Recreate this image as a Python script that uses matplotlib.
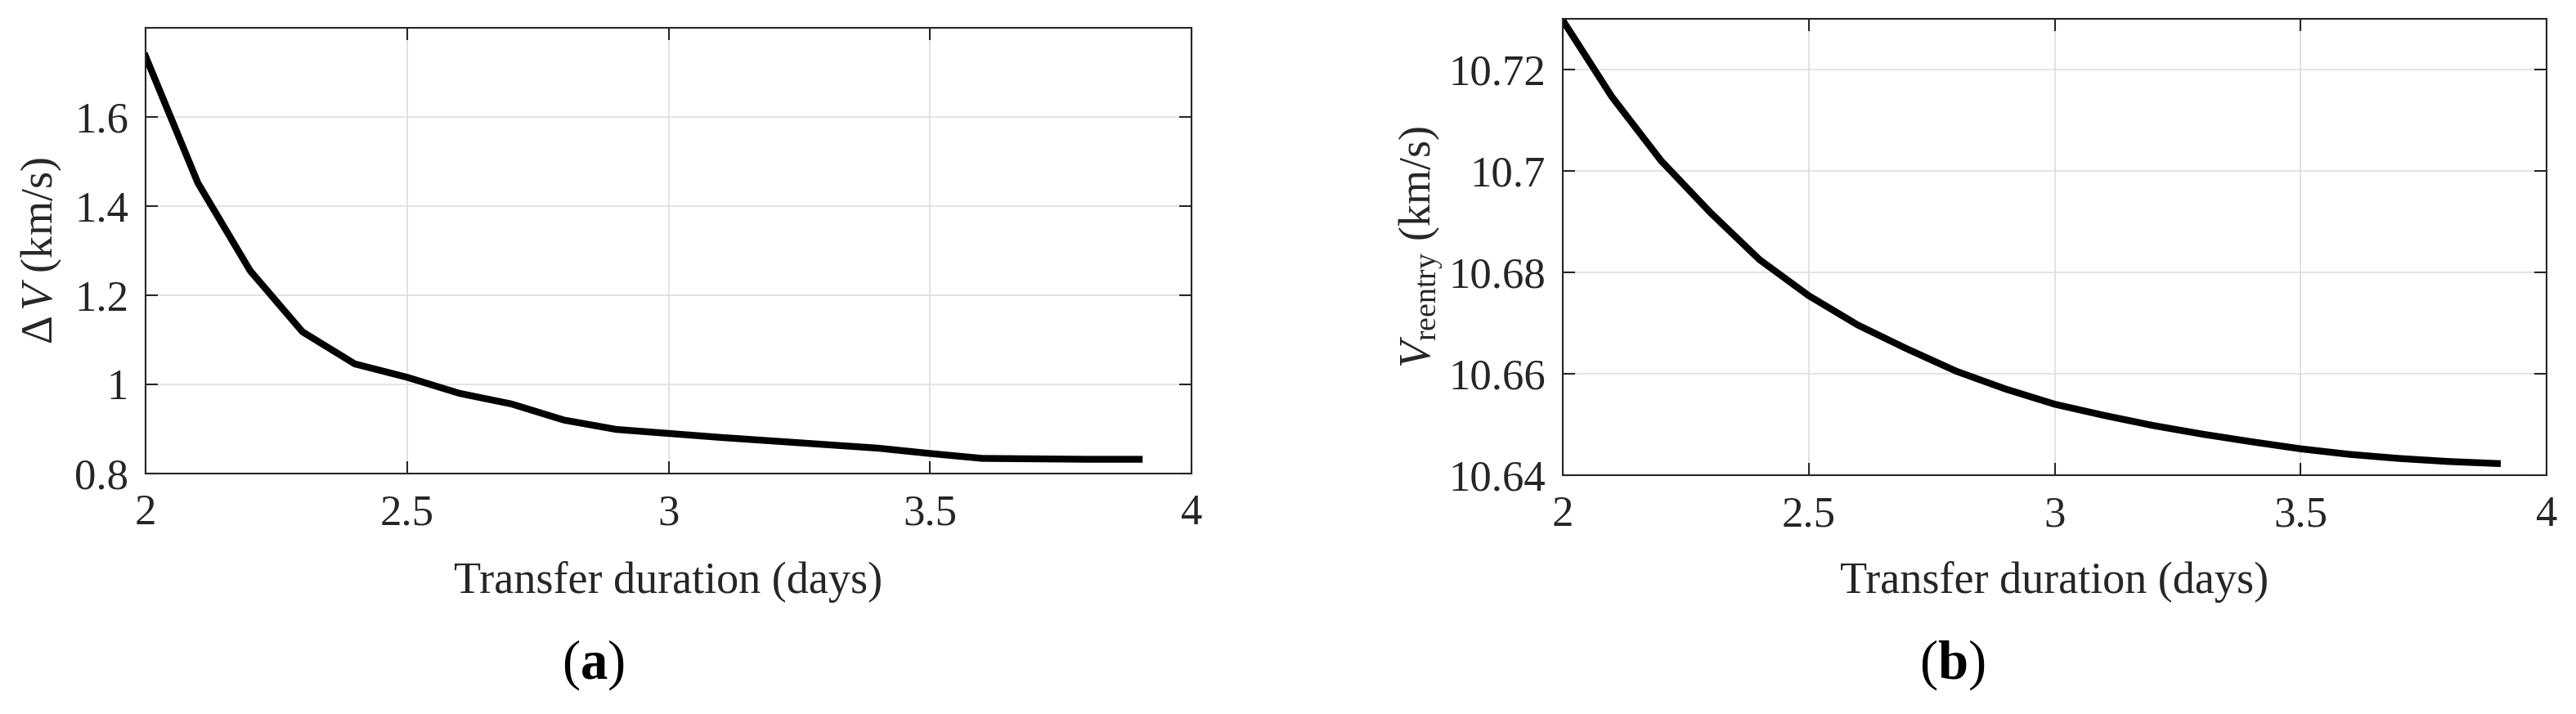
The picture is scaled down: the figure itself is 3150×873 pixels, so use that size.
import numpy as np
import matplotlib
matplotlib.use("Agg")
import matplotlib.pyplot as plt

plt.rcParams['font.family'] = ['Liberation Serif', 'DejaVu Serif']
plt.rcParams['mathtext.fontset'] = 'custom'
plt.rcParams['mathtext.rm'] = 'Liberation Serif'
plt.rcParams['mathtext.it'] = 'Liberation Serif:italic'
plt.rcParams['mathtext.bf'] = 'Liberation Serif:bold'

# data
days = [2.0, 2.1, 2.2, 2.3, 2.4, 2.5, 2.6, 2.7, 2.8, 2.9,
        3.0, 3.1, 3.2, 3.3, 3.4, 3.5, 3.6, 3.7, 3.8, 3.9]
delta_v = [1.736, 1.452, 1.255, 1.118, 1.046, 1.016, 0.980, 0.956, 0.920, 0.899,
           0.890, 0.881, 0.873, 0.865, 0.857, 0.845, 0.834, 0.833, 0.832, 0.832]
v_reentry = [10.7297, 10.7146, 10.7020, 10.6918, 10.6825, 10.6754, 10.6696, 10.6649,
             10.6605, 10.6570, 10.6540, 10.6518, 10.6498, 10.6481, 10.6466, 10.6452,
             10.6441, 10.6433, 10.6427, 10.6423]

x_ticks = [2, 2.5, 3, 3.5, 4]
x_ticklabels = ['2', '2.5', '3', '3.5', '4']
dv_ticks = [0.8, 1.0, 1.2, 1.4, 1.6]
dv_ticklabels = ['0.8', '1', '1.2', '1.4', '1.6']
vr_ticks = [10.64, 10.66, 10.68, 10.70, 10.72]
vr_ticklabels = ['10.64', '10.66', '10.68', '10.7', '10.72']

W, H = 3150, 873
fig = plt.figure(figsize=(W / 100, H / 100), dpi=100)

ax1 = fig.add_axes([178 / W, (H - 579) / H, 1279 / W, 545 / H])
ax2 = fig.add_axes([1911 / W, (H - 581) / H, 1203 / W, 558 / H])

dark = '#262626'

def style(ax, xlabel_y):
    for s in ax.spines.values():
        s.set_color(dark)
        s.set_linewidth(1.5)
    ax.tick_params(direction='in', length=11, width=1.5, color=dark,
                   labelcolor=dark, labelsize=38, top=True, right=True, pad=15)
    ax.tick_params(axis='x', pad=18)
    ax.grid(True, color='#dedede', linewidth=1.2)
    ax.set_axisbelow(True)
    ax.set_xlim(2, 4)
    ax.set_xticks(x_ticks)
    ax.set_xticklabels(x_ticklabels)
    ax.set_xlabel('Transfer duration (days)', fontsize=39, color=dark)
    ax.xaxis.set_label_coords(0.5, xlabel_y)
    ax.xaxis.label.set_va('top')

ax1.plot(days, delta_v, color='black', linewidth=6, solid_joinstyle='round')
style(ax1, -0.197)
ax1.set_ylim(0.8, 1.8)
ax1.set_yticks(dv_ticks)
ax1.set_yticklabels(dv_ticklabels)
ax1.set_ylabel(r'$\Delta\, V$ (km/s)', fontsize=39, color=dark)
ax1.yaxis.set_label_coords(-0.078, 0.5)

ax2.plot(days, v_reentry, color='black', linewidth=6, solid_joinstyle='round')
style(ax2, -0.188)
ax2.set_ylim(10.64, 10.73)
ax2.set_yticks(vr_ticks)
ax2.set_yticklabels(vr_ticklabels)
ax2.set_ylabel(r'$V_{\mathrm{reentry}}$ (km/s)', fontsize=39, color=dark)
ax2.yaxis.set_label_coords(-0.12, 0.5)

fig.text(725 / W, 1 - 813 / H, r'($\mathbf{a}$)', ha='center', va='center', fontsize=48)
fig.text(2387 / W, 1 - 813 / H, r'($\mathbf{b}$)', ha='center', va='center', fontsize=48)

fig.savefig('out.png', dpi=100, facecolor='white')
